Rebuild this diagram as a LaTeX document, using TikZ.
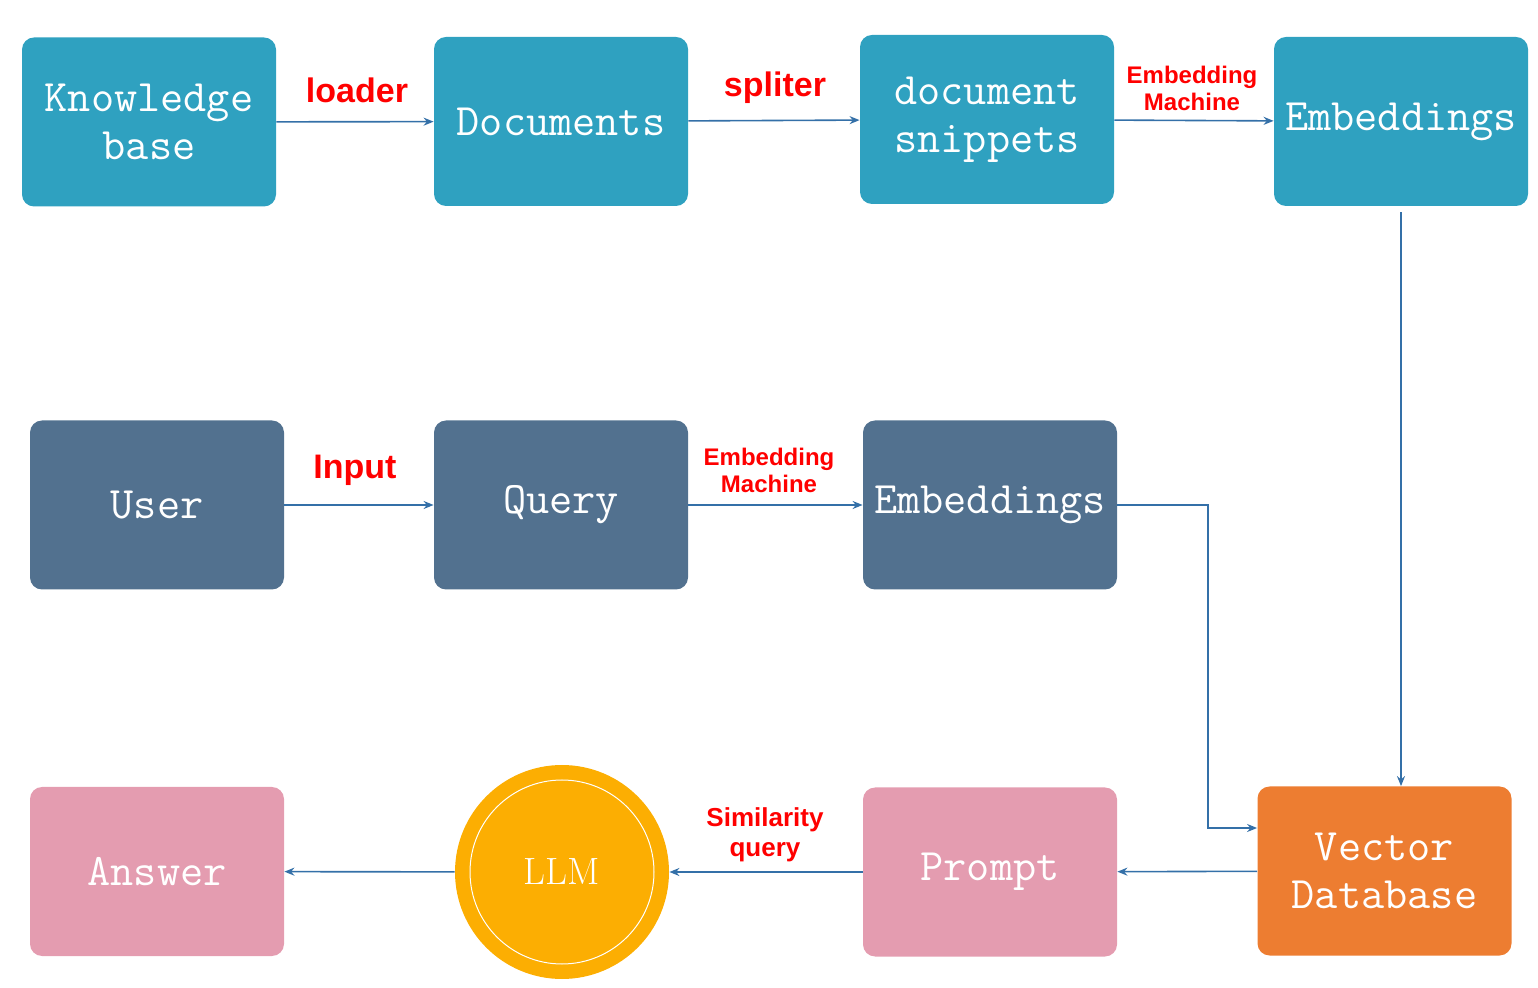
\documentclass[tikz,border=0pt]{standalone}
\usepackage{fontspec}
\newfontfamily\tagfont{Liberation Sans}
\usetikzlibrary{arrows.meta}

\definecolor{kbteal}{HTML}{2FA1C0}
\definecolor{qslate}{HTML}{52718F}
\definecolor{ppink}{HTML}{E49CB0}
\definecolor{dborange}{HTML}{ED7D31}
\definecolor{llmgold}{HTML}{FCAE02}
\definecolor{linkblue}{HTML}{3470A8}

\tikzset{
	box/.style={rounded corners=6pt,minimum width=127pt,minimum height=84.5pt,align=center,text=white,font=\ttfamily\fontsize{22.5}{24}\selectfont},
	tag/.style={text=red,align=center,font=\tagfont\bfseries\fontsize{17}{19}\selectfont},
	smalltag/.style={tag,font=\tagfont\bfseries\fontsize{12}{13.5}\selectfont},
	link/.style={draw=linkblue,line width=0.8pt,-{Stealth[length=5pt,width=4pt]}},
}

\begin{document}
\begin{tikzpicture}[x=0.5pt,y=-0.5pt]
	\useasboundingbox (0,0) rectangle (1538,988);
	\node[box,fill=kbteal] (1) at (149,122) {Knowledge\\base};
	\node[box,fill=kbteal] (2) at (561,121.5) {Documents};
	\node[box,fill=kbteal] (3) at (987,119.5) {document\\snippets};
	\node[box,fill=kbteal] (4) at (1401,121.5) {Embeddings};
	\node[box,fill=qslate] (5) at (157,505) {User};
	\node[box,fill=qslate] (6) at (561,505) {Query};
	\node[box,fill=qslate] (7) at (990,505) {Embeddings};
	\node[box,fill=ppink] (8) at (157,871.5) {Answer};
	\node[circle,fill=llmgold,minimum size=107pt,text=white,font=\rmfamily\fontsize{19}{22}\selectfont] (9) at (562,872) {LLM};
	\draw[white,line width=0.5pt] (9) circle (46pt);
	\node[box,fill=ppink] (10) at (990,872) {Prompt};
	\node[box,fill=dborange] (11) at (1384.5,871) {Vector\\Database};
	\coordinate (12) at (1208,828);
	\node[tag] (13) at (357,90) {loader};
	\node[tag] (14) at (775,88) {spliter};
	\node[smalltag] (15) at (1192,88) {Embedding\\Machine};
	\node[tag] (16) at (355,470) {Input};
	\node[smalltag] (17) at (769,470) {Embedding\\Machine};
	\node[smalltag,font=\tagfont\bfseries\fontsize{13}{15}\selectfont] (18) at (765,835) {Similarity\\query};
	\draw[link] (1) -- (2);
	\draw[link] (2) -- (3);
	\draw[link] (3) -- (4);
	\draw[link] (5) -- (6);
	\draw[link] (6) -- (7);
	\draw[link] ([yshift=-3pt]4.south) -- (4.south |- 11.north);
	\draw[link] (7.east) -| (12) -- (12 -| 11.west);
	\draw[link] (11) -- (10);
	\draw[link] (10) -- (9);
	\draw[link] (9) -- (8);
\end{tikzpicture}
\end{document}
